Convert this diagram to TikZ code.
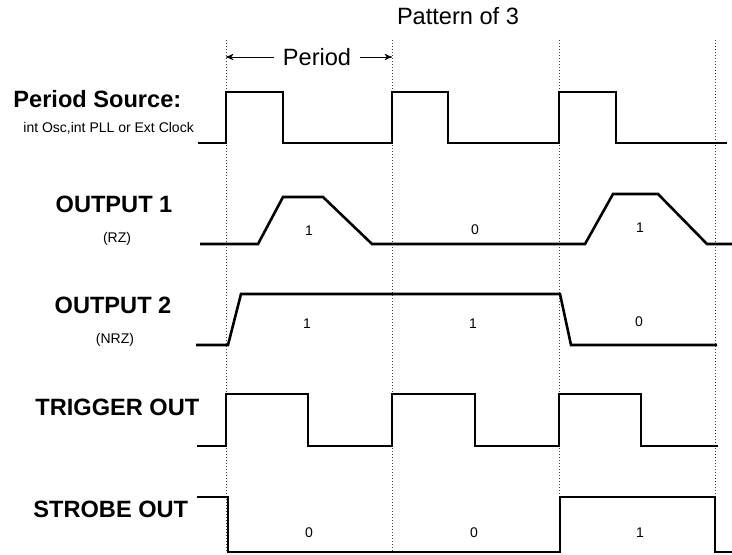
\documentclass[tikz,border=0pt]{standalone}
\usepackage{fontspec}
\setmainfont{Liberation Sans}
\usetikzlibrary{arrows}

\begin{document}
\begin{tikzpicture}
        [x=0.5pt,y=-0.5pt,>=stealth',
        wave/.style={line width=1.3pt,line join=miter},
        grid line/.style={densely dotted,line width=0.5pt,black!75},
        big label/.style={font=\fontsize{11.8}{13}\selectfont\bfseries,inner sep=0pt},
        small label/.style={font=\fontsize{7}{8}\selectfont,inner sep=0pt},
        title/.style={font=\fontsize{11.8}{13}\selectfont,inner sep=0pt}]

    \useasboundingbox (0,0) rectangle (732,554);

    \foreach \x/\n in {226/1,392/2,559/3,715/4}
        \draw[grid line] (\x,40) coordinate (top\n) -- (\x,552);

    \node[title] (pattern) at (458,16) {Pattern of 3};
    \node[title,inner sep=4pt] (period) at (317,57) {Period};
    \draw[->] (period.west) -- (top1 |- period.west);
    \draw[->] (period.east) -- (top2 |- period.east);

    \node[big label,anchor=west] (src) at (13,99) {Period Source:};
    \node[small label,anchor=west] (srcsub) at (23,128) {int Osc,int PLL or Ext Clock};
    \node[big label] (out1) at (114,204) {OUTPUT 1};
    \node[small label] (out1sub) at (117,239) {(RZ)};
    \node[big label] (out2) at (113,305) {OUTPUT 2};
    \node[small label] (out2sub) at (115,340) {(NRZ)};
    \node[big label,anchor=west] (trig) at (35,407) {TRIGGER OUT};
    \node[big label,anchor=west] (strb) at (33,509) {STROBE OUT};

    \foreach \x/\y/\b [count=\n] in {309/231/1,475/230/0,640/228/1,
                                     307/324/1,473/324/1,639/322/0,
                                     309/533/0,474/533/0,640/533/1}
        \node[small label] (bit\n) at (\x,\y) {\b};

    \draw[wave] (198,143) -- (226,143) -- (226,92) -- (283,92) -- (283,143)
        -- (392,143) -- (392,92) -- (448,92) -- (448,143) -- (559,143)
        -- (559,92) -- (616,92) -- (616,143) -- (727,143);
    \draw[wave] (200,244) -- (258,244) -- (283,197) -- (323,197) -- (372,244)
        -- (585,244) -- (613,194) -- (658,194) -- (707,244) -- (732,244);
    \draw[wave] (196,345) -- (228,345) -- (241,294) -- (560,294) -- (571,345)
        -- (717,345);
    \draw[wave] (197,446) -- (226,446) -- (226,394) -- (308,394) -- (308,446)
        -- (392,446) -- (392,394) -- (475,394) -- (475,446) -- (559,446)
        -- (559,394) -- (641,394) -- (641,446) -- (718,446);
    \draw[wave] (197,497) -- (228,497) -- (228,552) -- (560,552) -- (560,497)
        -- (715,497) -- (715,552) -- (732,552);

\end{tikzpicture}
\end{document}
